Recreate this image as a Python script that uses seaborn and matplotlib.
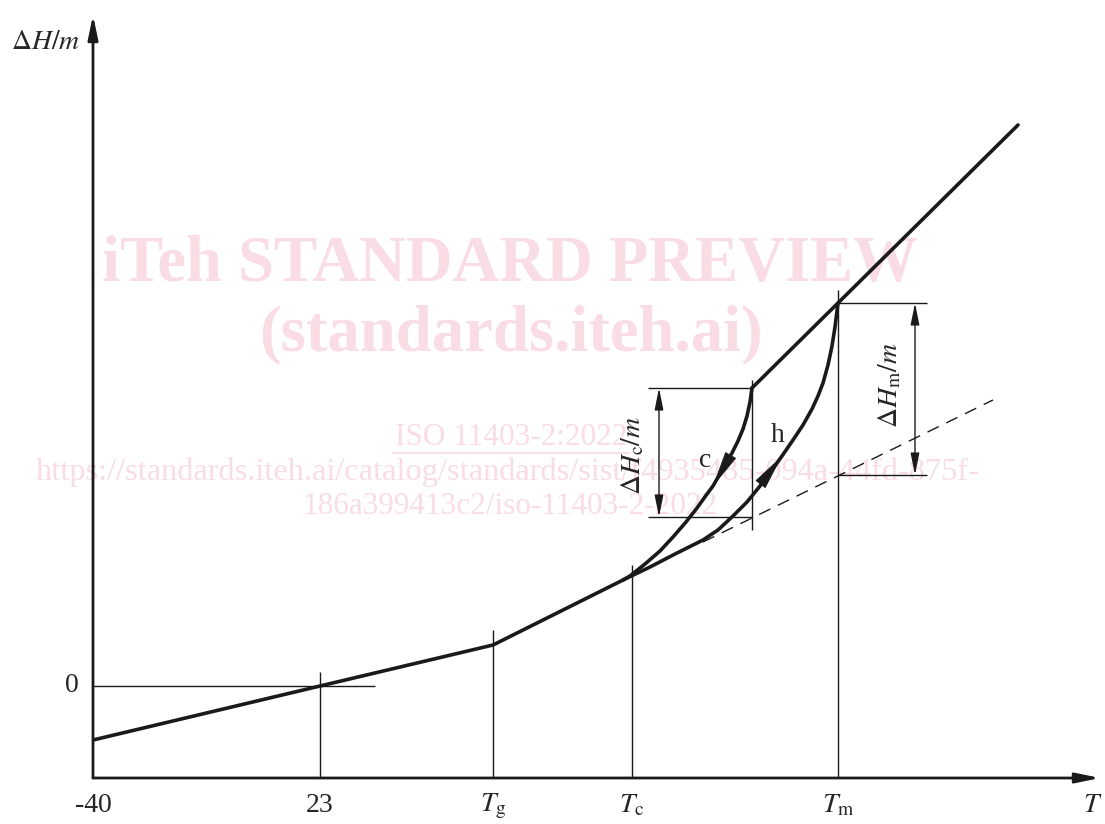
import matplotlib
matplotlib.use("Agg")
import matplotlib.pyplot as plt
import seaborn as sns

# schematic values (T in arbitrary units, dH/m arbitrary)
tick_pos = [0, 227, 400, 539, 745]
tick_labels = ["-40", "23", r"$T_{\mathrm{g}}$", r"$T_{\mathrm{c}}$", r"$T_{\mathrm{m}}$"]
tick_heights = [0, 106, 148, 213, 488]
zero_level = 92

# glassy + rubbery branch up to the onset of crystallisation
base_x = [0, 227, 400, 530]
base_y = [38, 92, 133, 198]

# heating curve (h) and cooling curve (c)
h_x = [530, 557, 584, 610, 625, 640, 654, 667, 684, 689, 700, 710, 719, 725, 730, 735, 739, 742, 745]
h_y = [198, 211, 225, 238, 248, 262, 276, 292, 315, 322, 338, 353, 369, 382, 395, 413, 432, 451, 475]
c_x = [659, 657, 654, 650, 645, 639, 632, 624, 620, 614, 604, 593, 580, 567, 552, 537, 530]
c_y = [390, 376, 362, 349, 337, 325, 313, 299, 292, 284, 270, 256, 241, 227, 214, 202, 198]
h_tip, c_tip = 9, 8

# melt line and extrapolated rubbery line
melt_x = [659, 745, 925]
melt_y = [390, 475, 653]
ext_x = [610, 900]
ext_y = [236, 378]

dHc_x, dHc_top, dHc_bot = 566, 390, 261
dHm_x, dHm_top, dHm_bot = 822, 475, 303

sns.set_theme(style="white")
plt.rcParams["mathtext.fontset"] = "stix"
plt.rcParams["font.family"] = ["Liberation Serif", "DejaVu Serif"]

fig = plt.figure(figsize=(11.05, 8.24), dpi=100)
ax = fig.add_axes([93 / 1105, 46 / 824, 1012 / 1105, 778 / 824])
ax.set_xlim(0, 1012)
ax.set_ylim(0, 778)
ax.axis("off")

# watermark
wm = "#f9dce4"
ax.text(417, 513, "iTeh STANDARD PREVIEW", color=wm, fontsize=46.5, fontweight="bold",
        ha="center", va="center", zorder=0)
ax.text(418, 443, "(standards.iteh.ai)", color=wm, fontsize=46.5, fontweight="bold",
        ha="center", va="center", zorder=0)
ax.text(418, 341, "ISO 11403-2:2022", color=wm, fontsize=22.5, ha="center", va="center", zorder=0)
ax.plot([300, 537], [325, 325], color=wm, lw=1.2, zorder=0)
ax.text(415, 306, "https://standards.iteh.ai/catalog/standards/sist/f4935485-094a-44fd-875f-",
        color=wm, fontsize=23.3, ha="center", va="center", zorder=0)
ax.text(417, 272, "186a399413c2/iso-11403-2-2022", color=wm, fontsize=22.5,
        ha="center", va="center", zorder=0)

# axes with arrows
axis_arrow = dict(arrowstyle="-|>,head_length=1.2,head_width=0.25", lw=2, color="k",
                  shrinkA=0, shrinkB=0)
ax.annotate("", xy=(1007, 0), xytext=(0, 0), arrowprops=axis_arrow)
ax.annotate("", xy=(0, 763), xytext=(0, 0), arrowprops=axis_arrow)

# thin guide lines
ax.vlines(tick_pos[1:], 0, tick_heights[1:], color="k", lw=1)
ax.hlines(zero_level, 0, 282, color="k", lw=1)
ax.vlines(c_x[0], 248, 398, color="k", lw=1)
ax.hlines([dHc_top, dHc_bot], 555, c_x[0], color="k", lw=1)
ax.hlines([dHm_top, dHm_bot], melt_x[1], 834, color="k", lw=1)
dbl = dict(arrowstyle="<|-|>,head_length=1.1,head_width=0.22", lw=1, color="k",
           shrinkA=0, shrinkB=0)
ax.annotate("", xy=(dHc_x, dHc_top), xytext=(dHc_x, dHc_bot), arrowprops=dbl)
ax.annotate("", xy=(dHm_x, dHm_top), xytext=(dHm_x, dHm_bot), arrowprops=dbl)

# extrapolated line
sns.lineplot(x=ext_x, y=ext_y, ax=ax, color="k", lw=1, linestyle=(0, (9, 6)))

# thick curves
for xs, ys in [(base_x, base_y), (h_x, h_y), (c_x, c_y), (melt_x, melt_y)]:
    sns.lineplot(x=xs, y=ys, ax=ax, color="k", lw=2.6, sort=False, estimator=None)

head = dict(arrowstyle="-|>,head_length=2.0,head_width=0.35", lw=0.5, color="k",
            shrinkA=0, shrinkB=0)
ax.annotate("", xy=(h_x[h_tip], h_y[h_tip]), xytext=(h_x[h_tip - 3], h_y[h_tip - 3]),
            arrowprops=head)
ax.annotate("", xy=(c_x[c_tip], c_y[c_tip]), xytext=(c_x[c_tip - 3], c_y[c_tip - 3]),
            arrowprops=head)

# labels
fs = 20
ax.text(612, 318, "c", fontsize=fs, ha="center", va="center")
ax.text(685, 343, "h", fontsize=fs, ha="center", va="center")
ax.text(540, 323, r"$\Delta H_{\mathrm{c}}/m$", fontsize=fs, rotation=90, ha="center", va="center")
ax.text(797, 393, r"$\Delta H_{\mathrm{m}}/m$", fontsize=fs, rotation=90, ha="center", va="center")
ax.text(-47, 736, r"$\Delta H/m$", fontsize=fs, ha="center", va="center")
ax.text(-21, zero_level, "0", fontsize=fs, ha="center", va="center")
for xp, lab in zip(tick_pos, tick_labels):
    ax.text(xp, -28, lab, fontsize=fs, ha="center", va="center")
ax.text(1000, -28, r"$T$", fontsize=fs, ha="center", va="center")

fig.savefig("out.png", dpi=100)
